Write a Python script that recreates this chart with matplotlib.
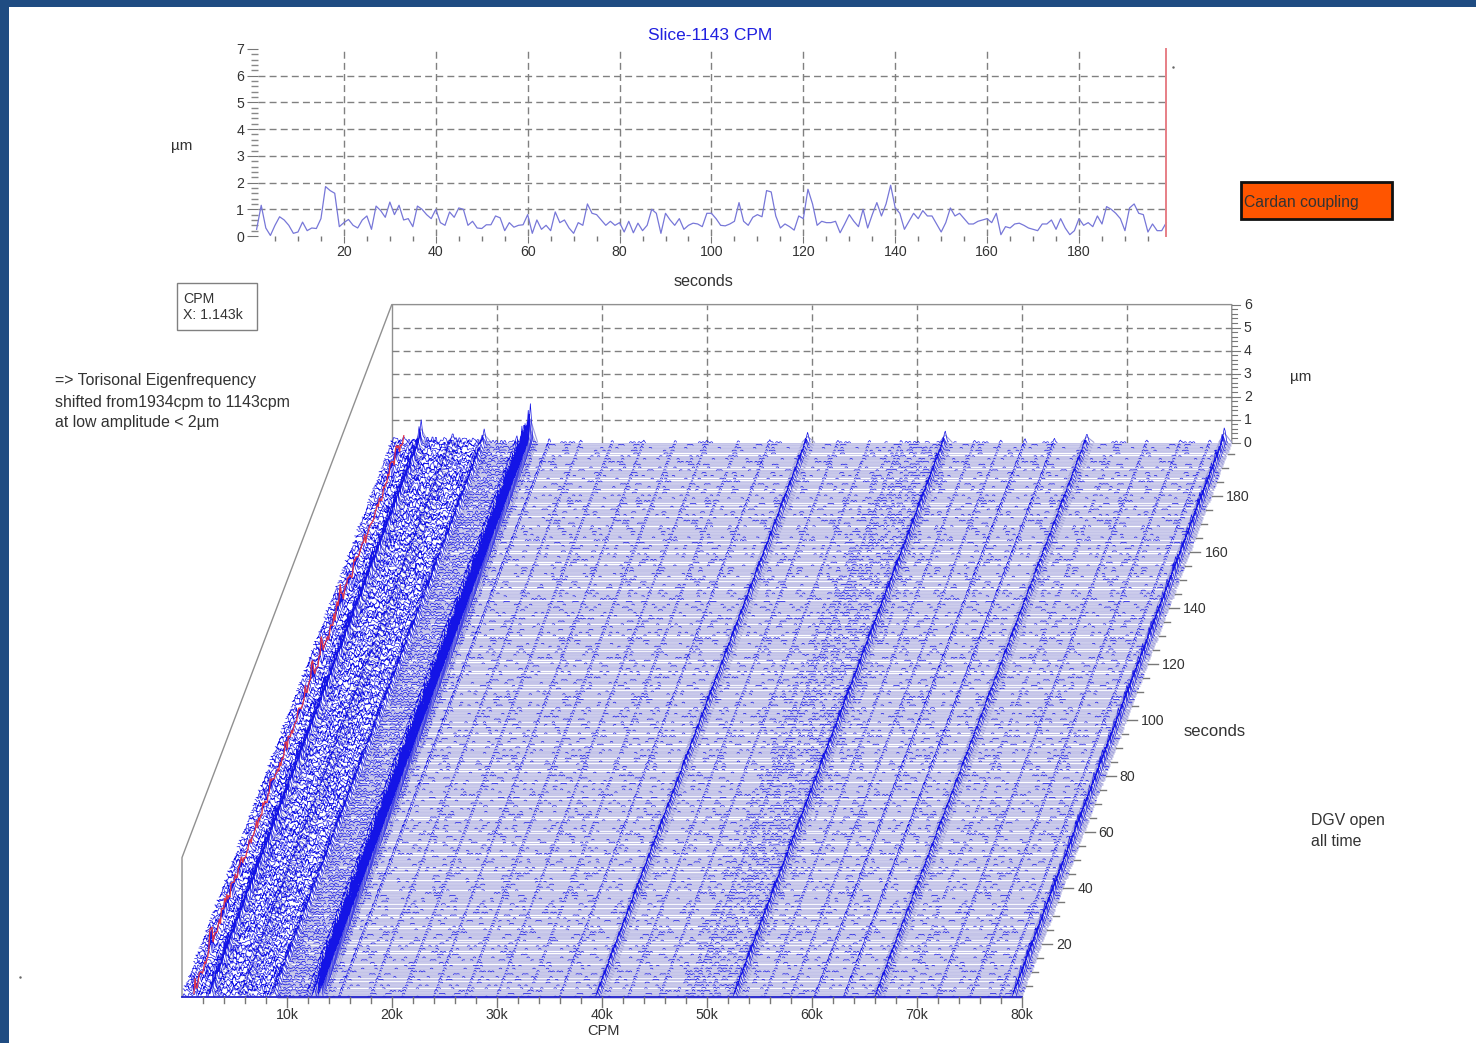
import numpy as np
import matplotlib
matplotlib.use("agg")
import matplotlib.pyplot as plt
from matplotlib.collections import LineCollection
from matplotlib.patches import Rectangle
from matplotlib.ticker import MultipleLocator

plt.rcParams['font.family'] = ['Liberation Sans', 'DejaVu Sans']

# slice at 1143 cpm, one value per second (1..199)
slice_um = [
    .25, 1.15, .3, .02, .4, .72, .6, .4, .1, .15, .52, .2, .3, .28, .65, 1.85, 1.7, 1.6, .35, .5,
    .62, .4, .3, .6, .75, .25, 1.12, .95, .7, 1.27, .8, 1.15, .6, .65, .35, 1.12, 1.0, .8, .65, 1.0,
    .5, .4, .9, .7, 1.05, 1.0, .4, .55, .3, .28, .42, .42, .75, .68, .2, .5, .33, .4, .42, .8,
    .1, .6, .25, .4, .2, .9, .5, .6, .3, .1, .5, .4, 1.2, .85, .8, .6, .4, .55, .4, .5,
    .15, .55, .12, .48, .2, .4, 1.0, .85, .1, .85, .6, .4, .65, .25, .4, .48, .45, .35, .85, .85,
    .65, .4, .38, .45, .55, 1.25, .55, .4, .7, .8, .72, 1.7, 1.65, .75, .3, .45, .35, .22, .75, .65,
    1.75, 1.2, .4, .55, .5, .5, .55, .12, .45, .8, .55, .35, 1.0, .3, .8, 1.25, .75, 1.2, 1.9, 1.05,
    .85, .25, .55, .85, .65, .95, .75, .75, .45, .15, .5, 1.05, .75, .85, .65, .45, .45, .55, .6, .65,
    .5, .85, .05, .35, .3, .45, .48, .4, .3, .25, .2, .45, .45, .6, .25, .65, .3, .05, .2, .65,
    .4, .5, .35, .75, .45, 1.1, 1.0, .85, .65, .2, 1.05, 1.2, .85, .8, .15, .45, .2, .2, .5,
]

# ridges of the waterfall: position in kCPM and height in um
peak_cpm = [0.2, 2.8, 5.8, 8.8, 11.9, 12.6, 13.2, 15.0, 18.0, 21.0, 24.0, 27.0, 30.0, 33.0, 36.0,
            39.6, 42.5, 45.5, 48.5, 52.7, 55.5, 58.0, 60.3, 63.1, 66.2, 69.0, 71.9, 75.1, 77.9, 79.3]
peak_um = [.3, 1.0, .45, .6, .35, .9, 1.7, .22, .11, .11, .11, .11, .1, .1, .13,
           .45, .11, .11, .11, .55, .11, .11, .2, .22, .42, .09, .13, .13, .13, .7]

# noise level per frequency band (estimated from how dense the speckle looks)
band_edges = [0, 9, 12.5, 14, 47, 49, 53, 54, 80]
band_um = [.24, .09, .06, .0365, .046, .052, .045, .0365]

# hand typed repeating patterns for the texture, these are not read per trace
ridge_gain = [.5, .55, .9, .5, .45, .6, 1.0, .55, .5, .7, .45, .5, .95, .6, 1.0, .55, .8, .45, .6, .5, .9, .55, .65]
jitter = [.1, .8, .3, .55, 0, .95, .2, .7, .4, .05, 1.0, .35, .6, .15, .85, .45, .0, .75, .25, .9,
          .5, .1, .65, .3, 1.0, .2, .6, .05, .8, .4, .7, .15, .95, .35, .55, .0, .85, .25, .45, .75, .1]
jitter_stride = [3, 7, 11, 13, 17, 19, 23]
row_band_lw = [2.0, 2.0, 1.9, 0.7, 2.0, 2.0, 1.6, 0.9, 2.0, 2.0, 1.9, 2.0, 0.6]

cpm_major = [10, 20, 30, 40, 50, 60, 70, 80]
cpm_minor = [2, 4, 6, 8, 12, 14, 16, 18, 22, 24, 26, 28, 32, 34, 36, 38, 42, 44, 46, 48,
             52, 54, 56, 58, 62, 64, 66, 68, 72, 74, 76, 78]
sec_major = [20, 40, 60, 80, 100, 120, 140, 160, 180]
um_major = [0, 1, 2, 3, 4, 5, 6]

FRAME = "#1f4c82"
TXT = "#333333"
GRID = "#808080"
BLUE = "#1414e6"
LAV = "#c3c3e8"


def proj(cpm, t, um=0.0):
    # oblique projection of the waterfall to pixels of the picture
    y0 = 997 - (np.asarray(t, dtype=float) - 1.0) * 2.8
    x = 182 + np.asarray(cpm, dtype=float) * 10.5 + (997 - y0) * 0.3784
    return x, y0 - np.asarray(um, dtype=float) * 23


fig = plt.figure(figsize=(14.76, 10.43), dpi=100)
ax = fig.add_axes([0, 0, 1, 1])
ax.set_xlim(0, 1476)
ax.set_ylim(1043, 0)
ax.axis("off")

ax.add_patch(Rectangle((0, 0), 9, 1043, color=FRAME, lw=0))
ax.add_patch(Rectangle((0, 0), 1476, 7, color=FRAME, lw=0))

# back walls of the waterfall
t_back = 199
xb0, yb0 = proj(0, t_back, 0)
xb1, yb1 = proj(80, t_back, 0)
xf0, yf0 = proj(0, 1, 0)
xtop, ytop = proj(0, t_back, 6)
ax.plot([xf0, xf0, xtop, xtop + (xb1 - xb0), xb1], [yf0, ytop + 553, ytop, ytop, yb1], color="#909090", lw=1)
ax.plot([xtop, xb0], [ytop, yb0], color="#909090", lw=1)
for u in um_major[1:-1]:
    xa, ya = proj(0, t_back, u)
    xc, yc = proj(80, t_back, u)
    ax.plot([xa, xc], [ya, yc], color=GRID, lw=1, ls=(0, (5, 3)))
for c in cpm_major[:-1]:
    xa, ya = proj(c, t_back, 0)
    xc, yc = proj(c, t_back, 6)
    ax.plot([xa, xc], [ya, yc], color=GRID, lw=1, ls=(0, (5, 3)))

# waterfall traces
grid = np.arange(0, 80.001, 0.08)
levels = np.array(band_um)[np.clip(np.searchsorted(band_edges, grid, side="right") - 1, 0, len(band_um) - 1)]
jit = np.array(jitter)
times = np.arange(1, 200)

bands, band_w, shoulders, blue_x, blue_y = [], [], [], [], []
for n, t in enumerate(times[::-1]):
    row = len(times) - 1 - n
    x0, y0 = proj(9, t)
    x1, y1 = proj(80, t)
    bands.append([(x0, y0), (x1, y1)])
    band_w.append(row_band_lw[row % len(row_band_lw)])

    stride = jitter_stride[row % len(jitter_stride)]
    idx = (np.arange(len(grid)) // 2 * stride + row * 5) % len(jit)
    z = levels * jit[idx]
    gain = ridge_gain[row % len(ridge_gain)]
    for c, a in zip(peak_cpm, peak_um):
        h = a * gain
        if c == 13.2:
            h = a * (0.5 + 0.5 * gain)
        width = 0.24 if a >= 0.4 else 0.14
        tri = np.clip(1 - np.abs(grid - c) / width, 0, None) * h
        z = np.maximum(z, tri)
        if a >= 0.4:
            sx, sy = proj(np.array([c - 0.55, c, c + 0.7]), t, np.array([0, h * 0.6, 0]))
            shoulders.append(np.column_stack([sx, sy]))
    # the 1143 cpm ridge is the slice itself
    z = np.maximum(z, np.clip(1 - np.abs(grid - 1.143) / 0.22, 0, None) * slice_um[row] * 0.6)

    hi = (z > 0.034) | (grid < 9)
    keep = hi | np.r_[hi[1:], False] | np.r_[False, hi[:-1]]
    xs, ys = proj(grid, t, z)
    ys = np.where(keep, ys, np.nan)
    blue_x.extend(xs.tolist() + [np.nan])
    blue_y.extend(ys.tolist() + [np.nan])

ax.add_collection(LineCollection(bands, colors=LAV, linewidths=band_w, capstyle="butt"))
ax.add_collection(LineCollection(shoulders, colors="#a0a0da", linewidths=0.8))
ax.plot(blue_x, blue_y, color=BLUE, lw=0.5, solid_joinstyle="miter")

# red slice on top of the traces
rx, ry = proj(np.full(len(times), 1.143), times, np.array(slice_um) * 0.6)
ax.plot(rx, ry, color="#e0364a", lw=0.9)

# front edge
xa, ya = proj(0, 1)
xc, yc = proj(80, 1)
ax.plot([xa, xc], [ya, yc], color="#2222cc", lw=1.3)

# axes of the waterfall
for c in cpm_major + cpm_minor:
    xa, ya = proj(c, 1)
    ax.plot([xa, xa], [ya, ya + (10 if c in cpm_major else 6)], color="#777777", lw=1)
for c in cpm_major:
    xa, ya = proj(c, 1)
    ax.text(xa, ya + 18, f"{c}k", ha="center", va="center", fontsize=10.2, color=TXT)
for s in np.arange(5, 196, 5):
    xa, ya = proj(80, s)
    ln = 10 if s in sec_major else 6
    ax.plot([xa, xa + ln], [ya, ya], color="#777777", lw=1)
for s in sec_major:
    xa, ya = proj(80, s)
    ax.text(xa + 14, ya + 1.5, str(s), ha="left", va="center", fontsize=10.2, color=TXT)
for u in np.arange(0, 6.01, 0.2):
    xa, ya = proj(80, t_back, u)
    ln = 8 if abs(u - round(u)) < 1e-6 else 5
    ax.plot([xa, xa + ln], [ya, ya], color="#777777", lw=0.8)
for u in um_major:
    xa, ya = proj(80, t_back, u)
    ax.text(xa + 16, ya + 0.5, str(u), ha="center", va="center", fontsize=10.2, color=TXT)

ax.text(603, 1031, "CPM", ha="center", va="center", fontsize=10.5, color=TXT)
ax.text(704, 282, "seconds", ha="center", va="center", fontsize=11.6, color=TXT)
ax.text(1215, 732, "seconds", ha="center", va="center", fontsize=12, color=TXT)
ax.text(182, 146, "µm", ha="center", va="center", fontsize=11, color=TXT)
ax.text(1301, 377, "µm", ha="center", va="center", fontsize=11, color=TXT)
ax.text(710, 36, "Slice-1143 CPM", ha="center", va="center", fontsize=12.5, color="#2020e0")

ax.add_patch(Rectangle((177, 283), 80, 47, fc="white", ec="#808080", lw=1))
ax.text(183, 299, "CPM", ha="left", va="center", fontsize=10.2, color=TXT)
ax.text(183, 315, "X: 1.143k", ha="left", va="center", fontsize=10.2, color=TXT)

ax.text(55, 381, "=> Torisonal Eigenfrequency", ha="left", va="center", fontsize=11.4, color=TXT)
ax.text(55, 402, "shifted from1934cpm to 1143cpm", ha="left", va="center", fontsize=11.4, color=TXT)
ax.text(55, 423, "at low amplitude < 2µm", ha="left", va="center", fontsize=11.4, color=TXT)
ax.text(1311, 821, "DGV open", ha="left", va="center", fontsize=11.4, color=TXT)
ax.text(1311, 842, "all time", ha="left", va="center", fontsize=11.4, color=TXT)

ax.add_patch(Rectangle((1241, 182), 151, 37, fc="#ff5500", ec="#111111", lw=2))
ax.text(1244, 202, "Cardan coupling", ha="left", va="center", fontsize=11.3, color="#333333")

ax.plot([1173, 20], [67, 977], ls="none", marker=".", ms=1.5, color="#666666")

# top plot, slice over time
ax_top = fig.add_axes([258 / 1476, 1 - 236 / 1043, (1166.3 - 258) / 1476, 187 / 1043])
ax_top.patch.set_alpha(0)
for side in ax_top.spines.values():
    side.set_visible(False)
ax_top.set_xlim(1.3, 199)
ax_top.set_ylim(0, 7)
ax_top.set_xticks(sec_major)
ax_top.set_yticks(um_major + [7])
ax_top.xaxis.set_minor_locator(MultipleLocator(5))
ax_top.yaxis.set_minor_locator(MultipleLocator(0.2))
ax_top.grid(True, which="major", color=GRID, lw=1, ls=(0, (5, 3)))
ax_top.set_axisbelow(True)
ygrid = ax_top.get_ygridlines()
ygrid[0].set_visible(False)
ygrid[-1].set_visible(False)
ax_top.tick_params(axis="both", which="major", labelsize=10.2, labelcolor=TXT, color="#777777")
ax_top.tick_params(axis="x", which="major", length=5, pad=1.5)
ax_top.tick_params(axis="y", which="major", length=8, pad=2)
ax_top.tick_params(axis="x", which="minor", length=3.5, width=1, color="#777777")
ax_top.tick_params(axis="y", which="minor", length=5, width=1, color="#888888")
ax_top.plot(times, slice_um, color="#7777d8", lw=0.9, clip_on=False)
ax_top.axvline(199, color="#e77f86", lw=1.4, clip_on=False)

fig.savefig("out.png", dpi=100)
